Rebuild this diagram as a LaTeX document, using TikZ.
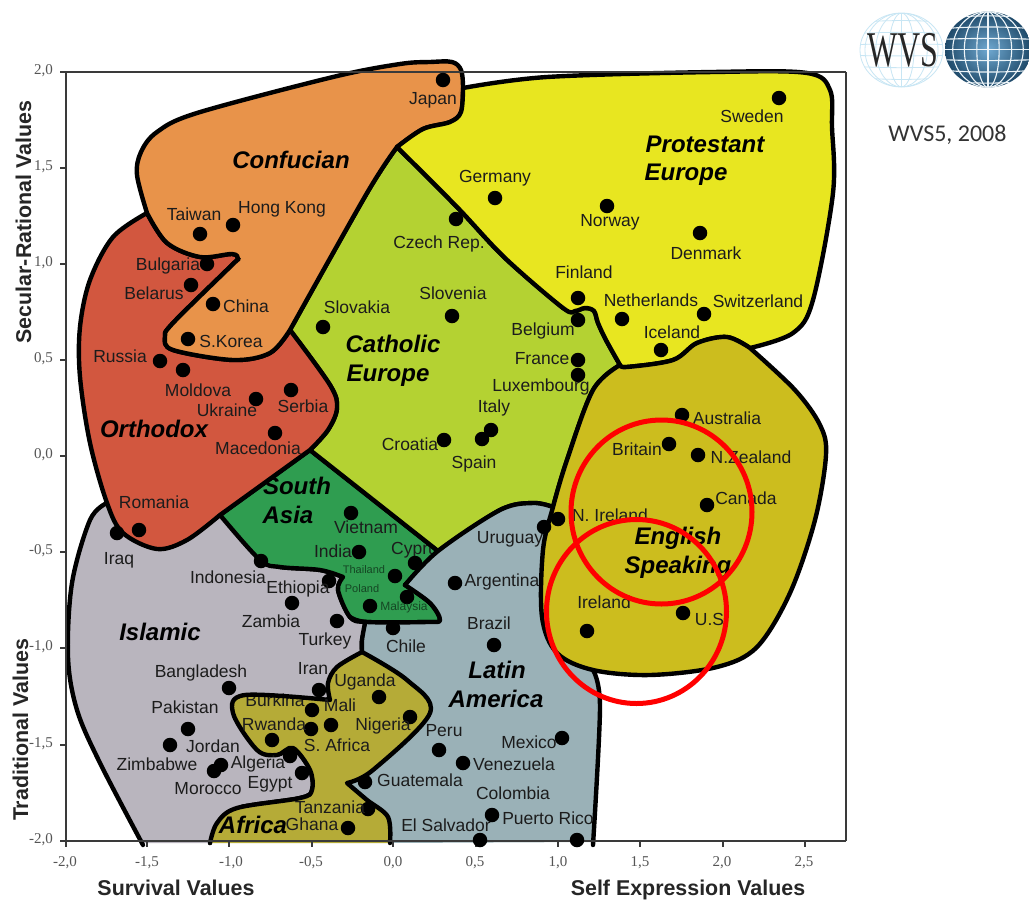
\documentclass[tikz,border=0pt]{standalone}
\usepackage{fontspec}
\setmainfont{Liberation Sans}
\newfontfamily\serifbody{Liberation Serif}
\newfontfamily\carl{Carlito}
\definecolor{cConf}{HTML}{E8934A}
\definecolor{cOrth}{HTML}{D2573F}
\definecolor{cCath}{HTML}{B4D232}
\definecolor{cProt}{HTML}{E8E620}
\definecolor{cEng}{HTML}{CCBD1E}
\definecolor{cIsl}{HTML}{B9B5BE}
\definecolor{cLat}{HTML}{9AB1B7}
\definecolor{cAfr}{HTML}{B5AB37}
\definecolor{cSA}{HTML}{2F9D50}
\definecolor{axisgray}{HTML}{3A3A3A}
\definecolor{ticktext}{HTML}{555555}
\definecolor{txt}{HTML}{1C1C1C}
\definecolor{globeIn}{HTML}{6FA8D0}
\definecolor{globeOut}{HTML}{1F4A6A}
\definecolor{gridW}{HTML}{EEF5F9}
\definecolor{gridL}{HTML}{C8E6F4}
\tikzset{
  every plot/.style={smooth,tension=.55},
  bd/.style={draw=black,line width=4.4pt,line join=round,line cap=round},
  axisln/.style={draw=axisgray,line width=1.4pt},
  dotm/.style={circle,fill=black,inner sep=0pt,minimum size=14.5pt},
  lab/.style={inner sep=0pt,text=txt,text height=13pt,text depth=1pt,font=\fontsize{17.5}{20}\selectfont},
  tiny lab/.style={inner sep=0pt,text=black!55!cSA,font=\fontsize{11}{12}\selectfont},
  grp/.style={inner sep=0pt,anchor=base,text=black,font=\fontsize{24}{28}\selectfont\bfseries\itshape},
  axt/.style={inner sep=0pt,anchor=base,text=black!85,font=\fontsize{21.4}{24}\selectfont\bfseries},
  tickt/.style={inner sep=0pt,text=ticktext,font=\serifbody\fontsize{15}{18}\selectfont},
  ring/.style={draw=red,line width=5pt},
}
\newcommand\region[2]{\fill[#1] #2; \draw[bd] #2;}
\newcommand\cty[6]{\node[dotm] (d#1) at (#2,#3) {}; \node[lab] (l#1) at (#4,#5) {#6};}
\newcommand\onlylab[4]{\node[lab] (l#1) at (#2,#3) {#4};}
\begin{document}
\begin{tikzpicture}[x=1pt,y=-1pt]
\useasboundingbox (0,0) rectangle (1029,900);
\fill[white] (0,0) rectangle (1029,900);

% Islamic
\region{cIsl}{plot coordinates {(220,515)(260,560)(280,567)(320,570)(343,577)} -- plot coordinates {(343,577)(338,590)(350,617)(365,623)(362,640)(362,652)} -- plot coordinates {(362,652)(337,667)(328,683)(330,700)} -- plot coordinates {(330,700)(245,695)(233,713)(257,750)(277,755)(293,748)(310,770)(312,790)(300,798)(237,808)(217,823)(210,843)}}
\fill[cIsl] (143,843) -- (210,843) -- (362,652) -- (220,515) -- (107,503) -- cycle;
\fill[cIsl] plot coordinates {(107,503)(90,520)(72,583)(68,657)(77,710)(100,763)(143,845)} -- (220,515) -- cycle;
\draw[bd] plot coordinates {(107,503)(90,520)(72,583)(68,657)(77,710)(100,763)(143,845)};

% South Asia
\region{cSA}{plot coordinates {(220,515)(310,450)} -- plot coordinates {(310,450)(438,551)} -- (405,585) -- plot coordinates {(405,585)(430,603)(440,620)(427,622)(367,622)(350,617)(338,590)(343,577)} -- plot coordinates {(343,577)(320,570)(280,567)(260,560)(220,515)}}
\node[lab,anchor=west] (lCyprus) at (391,548) {Cyprus};

% Catholic
\region{cCath}{plot coordinates {(397,147)(457,207)(505,258)(563,308)} -- plot coordinates {(563,308)(575,311)(585,308)(594,311)(598,323)(606,340)(620,365)} -- plot coordinates {(620,365)(593,390)(567,460)(553,507)} -- plot coordinates {(553,507)(533,503)(500,510)(438,551)} -- (310,450) -- plot coordinates {(310,450)(328,430)(337,408)(330,385)(290,330)} -- plot coordinates {(290,330)(367,193)(397,147)}}

% Latin America
\fill[cLat] plot coordinates {(405,585)(438,551)(500,510)(533,503)(553,507)} -- plot coordinates {(553,507)(543,550)(542,617)(557,653)(593,670)} -- plot coordinates {(593,670)(600,707)(593,842)} -- (390,843) -- plot coordinates {(390,843)(388,817)(367,800)(347,783)} -- plot coordinates {(347,783)(373,770)(430,713)(407,680)(362,652)} -- plot coordinates {(362,652)(362,640)(365,623)} -- (427,622) -- plot coordinates {(427,622)(440,620)(430,603)(405,585)};
\draw[bd] plot coordinates {(405,585)(438,551)(500,510)(533,503)(553,507)};
\draw[bd] plot coordinates {(593,670)(600,707)(593,845)};
\draw[bd] plot coordinates {(362,652)(362,640)(365,623)};
\draw[bd] plot coordinates {(405,585)(430,603)(440,620)(427,622)(367,622)(350,617)};

% Africa
\fill[cAfr] plot coordinates {(210,843)(217,823)(237,808)(300,798)(312,790)(310,770)(293,748)(277,755)(257,750)(233,713)(245,695)(330,700)} -- plot coordinates {(330,700)(328,683)(337,667)(362,652)} -- plot coordinates {(362,652)(407,680)(430,713)(373,770)(347,783)} -- plot coordinates {(347,783)(367,800)(388,817)(390,843)};
\node[lab] (lBurkina) at (275,700) {Burkina};
\draw[bd] plot coordinates {(210,843)(217,823)(237,808)(300,798)(312,790)(310,770)(293,748)(277,755)(257,750)(233,713)(245,695)(330,700)} -- plot coordinates {(330,700)(328,683)(337,667)(362,652)} -- plot coordinates {(362,652)(407,680)(430,713)(373,770)(347,783)} -- plot coordinates {(347,783)(367,800)(388,817)(390,843)};

% Orthodox
\region{cOrth}{plot coordinates {(147,213)(113,237)(90,280)(80,327)(80,377)(90,443)(107,503)(123,533)(157,549)(187,540)(220,515)} -- (310,450) -- plot coordinates {(310,450)(328,430)(337,408)(330,385)(290,330)} -- plot coordinates {(290,330)(270,353)(233,360)(173,350)(165,337)(173,323)(232,265)(238,259)(232,254)(200,257)(167,243)(147,213)}}

% Confucian
\region{cConf}{plot coordinates {(147,213)(137,175)(141,152)(157,132)(197,113)(333,77)(400,64)(430,62)(452,62)(461,70)(463,88)(461,112)(450,122)(423,129)(397,147)} -- plot coordinates {(397,147)(367,193)(290,330)} -- plot coordinates {(290,330)(270,353)(233,360)(173,350)(165,337)(173,323)(232,265)(238,259)(232,254)(200,257)(167,243)(147,213)}}

% Protestant
\region{cProt}{plot coordinates {(397,147)(423,129)(450,122)(461,112)(463,88)} -- plot coordinates {(463,88)(547,77)(713,72)(807,73)(830,90)(832,127)(833,193)(813,300)(793,333)(750,348)} -- plot coordinates {(750,348)(727,337)(697,343)(673,360)(627,367)(620,365)} -- plot coordinates {(620,365)(606,340)(598,323)(594,311)(585,308)(575,311)(563,308)(505,258)(457,207)(397,147)}}

% English speaking
\region{cEng}{plot coordinates {(620,365)(593,390)(567,460)(553,507)(543,550)(542,617)(557,653)(593,670)(650,675)(717,667)(757,647)(790,593)(815,520)(826,455)(820,425)(795,390)(750,348)} -- plot coordinates {(750,348)(727,337)(697,343)(673,360)(627,367)(620,365)}}

% Axes
\coordinate (o) at (66,841);
\coordinate (tl) at (66,72);
\coordinate (tr) at (846,72);
\coordinate (br) at (846,841);
\draw[axisln] (60,72) -- (tr);
\draw[axisln] (tl) -- (o);
\draw[axisln] (60,841) -- (br);
\draw[axisgray,line width=1.2pt] (tr) -- (br);
\foreach \yy/\tt in {72/{2,0},168/{1,5},264/{1,0},360/{0,5},456/{0,0},552/{-0,5},648/{-1,0},745/{-1,5},841/{-2,0}}{
  \draw[axisln] (60,\yy) -- (66,\yy);
  \node[tickt,anchor=east] at (53,\yy-1) {\tt};
}
\foreach \xx/\lx/\tt in {66/65/{-2,0},147/147/{-1,5},229/231/{-1,0},312/311/{-0,5},393/393/{0,0},476/475/{0,5},558/558/{1,0},640/640/{1,5},723/722/{2,0},805/804/{2,5}}{
  \draw[axisln] (\xx,841) -- (\xx,847);
  \node[tickt] at (\lx,863) {\tt};
}
\node[axt,rotate=90] (ySec) at (31,222) {Secular-Rational Values};
\node[axt,rotate=90] (yTra) at (28,730) {Traditional Values};
\node[axt] (xSur) at (176,895) {Survival Values};
\node[axt] (xSel) at (688,895) {Self Expression Values};

% Countries
\cty{Japan}{443}{80}{433}{98}{Japan}
\cty{Sweden}{779}{98}{752}{116}{Sweden}
\cty{Germany}{495}{198}{495}{176}{Germany}
\cty{Norway}{607}{206}{610}{220}{Norway}
\cty{Denmark}{700}{233}{706}{253}{Denmark}
\cty{Czech}{456}{219}{439}{242}{Czech Rep.}
\cty{Finland}{578}{298}{584}{272}{Finland}
\cty{Belgium}{578}{320}{543}{329}{Belgium}
\cty{Netherlands}{622}{319}{651}{300}{Netherlands}
\cty{Switzerland}{704}{314}{758}{301}{Switzerland}
\cty{Iceland}{661}{350}{672}{332}{Iceland}
\cty{Slovenia}{452}{316}{453}{293}{Slovenia}
\cty{Slovakia}{323}{327}{357}{307}{Slovakia}
\cty{France}{578}{360}{542}{358}{France}
\cty{Luxembourg}{578}{375}{541}{385}{Luxembourg}
\cty{Italy}{491}{430}{494}{406}{Italy}
\cty{Spain}{482}{439}{474}{462}{Spain}
\cty{Croatia}{444}{440}{410}{444}{Croatia}
\cty{Taiwan}{200}{234}{194}{214}{Taiwan}
\cty{HongKong}{233}{225}{282}{207}{Hong Kong}
\cty{Bulgaria}{207}{264}{168}{264}{Bulgaria}
\cty{Belarus}{191}{285}{154}{293}{Belarus}
\cty{China}{213}{304}{246}{306}{China}
\cty{SKorea}{188}{339}{231}{341}{S.Korea}
\cty{Russia}{160}{361}{120}{356}{Russia}
\cty{Moldova}{183}{370}{198}{390}{Moldova}
\cty{Ukraine}{256}{399}{227}{410}{Ukraine}
\cty{Serbia}{291}{390}{303}{406}{Serbia}
\cty{Macedonia}{275}{433}{258}{448}{Macedonia}
\cty{Romania}{139}{530}{154}{502}{Romania}
\cty{Iraq}{117}{533}{119}{558}{Iraq}
\cty{Vietnam}{351}{513}{366}{527}{Vietnam}
\cty{India}{359}{552}{333}{551}{India}
\node[dotm] (dCyprus) at (415,563) {};
\node[dotm] (dThailand) at (395,576) {};
\node[tiny lab] (lThailand) at (364,570) {Thailand};
\node[dotm] (dPoland) at (370,606) {};
\node[tiny lab] (lPoland) at (362,589) {Poland};
\node[dotm] (dMalaysia) at (407,597) {};
\node[tiny lab,font=\fontsize{12}{14}\selectfont] (lMalaysia) at (404,607) {Malaysia};
\cty{Indonesia}{261}{561}{228}{577}{Indonesia}
\cty{Ethiopia}{329}{581}{298}{587}{Ethiopia}
\cty{Zambia}{292}{603}{271}{621}{Zambia}
\cty{Turkey}{337}{621}{325}{639}{Turkey}
\cty{Chile}{393}{628}{406}{646}{Chile}
\cty{Bangladesh}{229}{688}{201}{671}{Bangladesh}
\cty{Iran}{319}{690}{313}{668}{Iran}
\cty{Uganda}{379}{697}{365}{680}{Uganda}
\node[dotm] (dBurkina) at (312,710) {};
\cty{Mali}{331}{725}{340}{705}{Mali}
\cty{Nigeria}{410}{717}{383}{724}{Nigeria}
\cty{Rwanda}{311}{729}{274}{724}{Rwanda}
\cty{Pakistan}{188}{729}{185}{707}{Pakistan}
\cty{Jordan}{170}{745}{213}{746}{Jordan}
\cty{SAfrica}{272}{740}{337}{745}{S. Africa}
\node[dotm] (dAlgX) at (290,756) {};
\cty{Egypt}{302}{773}{270}{782}{Egypt}
\cty{Algeria}{221}{765}{258}{762}{Algeria}
\cty{Zimbabwe}{214}{771}{157}{764}{Zimbabwe}
\onlylab{Morocco}{208}{788}{Morocco}
\cty{Guatemala}{365}{782}{420}{780}{Guatemala}
\cty{Tanzania}{368}{809}{330}{807}{Tanzania}
\cty{Ghana}{348}{828}{312}{824}{Ghana}
\cty{Peru}{439}{750}{444}{730}{Peru}
\cty{Venezuela}{463}{763}{514}{764}{Venezuela}
\cty{Mexico}{562}{738}{529}{742}{Mexico}
\cty{Colombia}{492}{815}{513}{793}{Colombia}
\cty{ElSalvador}{480}{840}{446}{825}{El Salvador}
\cty{PuertoRico}{577}{840}{548}{818}{Puerto Rico}
\cty{Brazil}{494}{645}{489}{623}{Brazil}
\cty{Argentina}{455}{583}{502}{580}{Argentina}
\cty{Uruguay}{544}{527}{510}{537}{Uruguay}
\cty{NIreland}{558}{519}{610}{515}{N. Ireland}
\cty{Australia}{682}{415}{727}{418}{Australia}
\cty{Britain}{669}{444}{637}{449}{Britain}
\cty{NZealand}{698}{455}{751}{457}{N.Zealand}
\cty{Canada}{707}{505}{746}{498}{Canada}
\cty{Ireland}{587}{631}{604}{602}{Ireland}
\cty{US}{683}{613}{712}{619}{U.S.}

% Culture zones
\node[grp] (gConf) at (291,168) {Confucian};
\node[grp] (gProt1) at (705,152) {Protestant};
\node[grp] (gProt2) at (686,180) {Europe};
\node[grp] (gCath1) at (393,352) {Catholic};
\node[grp] (gCath2) at (388,381) {Europe};
\node[grp] (gOrth) at (154,437) {Orthodox};
\node[grp] (gSA1) at (297,494) {South};
\node[grp] (gSA2) at (288,523) {Asia};
\node[grp] (gIsl) at (160,640) {Islamic};
\node[grp] (gLat1) at (497,678) {Latin};
\node[grp] (gLat2) at (496,707) {America};
\node[grp] (gEng1) at (678,544) {English};
\node[grp] (gEng2) at (678,573) {Speaking};
\node[grp] (gAfr) at (253,833) {Africa};

% Red rings
\draw[ring] (661.5,512) ellipse [x radius=90.5,y radius=92];
\draw[ring] (636.5,611.5) ellipse [x radius=90,y radius=92];

% Logo, outlined globe
\begin{scope}
\clip (901.5,50) ellipse [x radius=41.5,y radius=37];
\foreach \k in {-.75,-.45,-.15,.15,.45,.75}{
  \draw[gridL,line width=.8pt] (860,50+37*\k) .. controls (885,50+37*\k+3*\k) and (918,50+37*\k+3*\k) .. (943,50+37*\k);
}
\foreach \k in {.3,.62,.88}{
  \draw[gridL,line width=.8pt] (901.5,50) ellipse [x radius=41.5*\k,y radius=37];
}
\draw[gridL,line width=.8pt] (901.5,13) -- (901.5,87);
\end{scope}
\draw[gridL,line width=.8pt] (901.5,50) ellipse [x radius=41.5,y radius=37];
\node[inner sep=0pt,text=black!85,font=\serifbody\fontsize{50}{52}\selectfont,xscale=.64] (wvs) at (903,50) {WVS};

% Logo, shaded globe
\begin{scope}
\clip (988,49.5) ellipse [x radius=43,y radius=38];
\shade[inner color=globeIn,outer color=globeOut] (988,49.5) ellipse [x radius=43,y radius=38];
\foreach \k in {-.82,-.55,-.27,0,.27,.55,.82}{
  \draw[gridW,line width=1.1pt] (945,49.5+38*\k) .. controls (970,49.5+38*\k+4*\k) and (1006,49.5+38*\k+4*\k) .. (1031,49.5+38*\k);
}
\foreach \k in {.26,.55,.82}{
  \draw[gridW,line width=1.1pt] (988,49.5) ellipse [x radius=43*\k,y radius=38];
}
\draw[gridW,line width=1.1pt] (988,11) -- (988,88);
\end{scope}
\node[inner sep=0pt,text=black!80,font=\carl\fontsize{24}{28}\selectfont] (wvsyear) at (947.5,135) {WVS5, 2008};
\end{tikzpicture}
\end{document}
